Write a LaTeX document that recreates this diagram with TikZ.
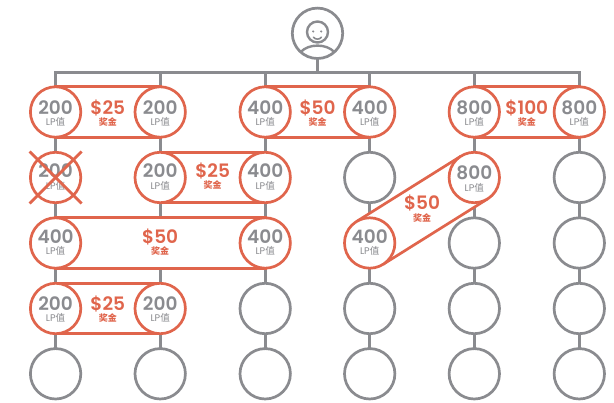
\documentclass[tikz,border=0pt]{standalone}
\usepackage{fontspec}
\setmainfont{Poppins}
\newfontfamily\semi{Poppins SemiBold}
\newfontfamily\cjk{Noto Sans CJK SC}
\usetikzlibrary{backgrounds,calc}
\definecolor{tree}{HTML}{8A8B8F}
\definecolor{prize}{HTML}{E0654C}
\tikzset{
  x=1pt,y=-1pt,
  stub/.style={circle,draw=tree,line width=2.7pt,fill=white,minimum size=50.4pt,inner sep=0pt,outer sep=0pt},
  won/.style={stub,draw=prize},
  link/.style={draw=tree,line width=2.7pt},
  band/.style={draw=prize,line width=2.7pt},
  bandfill/.style={fill=white},
  cross/.style={draw=prize,line width=2.7pt},
  val/.style={text=tree,font=\fontsize{18.5}{19}\semi,inner sep=0pt},
  lp/.style={text=tree,font=\fontsize{9.6}{10}\selectfont,inner sep=0pt},
  amt/.style={text=prize,font=\fontsize{18.5}{19}\semi,inner sep=0pt},
  bonus/.style={text=prize,font=\fontsize{9}{9}\cjk\bfseries,inner sep=0pt},
}
\newcommand{\LPv}{LP{\cjk 值}}
% name, x, value, y of value, y of label
\newcommand{\valtext}[5]{%
  \node[val] (#1v) at (#2,#4) {#3};
  \node[lp] (#1l) at (#2,#5) {\LPv};}
\newcommand{\prizetext}[4]{%
  \node[amt] (#1a) at (#2,#3) {#4};
  \node[bonus] (#1b) at (#2,#3+14.3) {奖金};}
\begin{document}
\begin{tikzpicture}
\useasboundingbox (0,0) rectangle (614,403);
% circles
\node[stub] (root) at (317.5,33.3) {};
\node[won] (a1) at (55.6,112) {};
\node[won] (b1) at (160.2,112) {};
\node[won] (c1) at (265.2,112) {};
\node[won] (d1) at (369.7,112) {};
\node[won] (e1) at (474.3,112) {};
\node[won] (f1) at (579.3,112) {};
\node[won] (a2) at (55.6,177.5) {};
\node[won] (b2) at (160.2,177.5) {};
\node[won] (c2) at (265.2,177.5) {};
\node[stub] (d2) at (369.7,177.5) {};
\node[won] (e2) at (474.3,177.5) {};
\node[stub] (f2) at (579.3,177.5) {};
\node[won] (a3) at (55.6,243) {};
\node[won] (c3) at (265.2,243) {};
\node[won] (d3) at (369.7,243) {};
\node[stub] (e3) at (474.3,243) {};
\node[stub] (f3) at (579.3,243) {};
\node[won] (a4) at (55.6,308.5) {};
\node[won] (b4) at (160.2,308.5) {};
\node[stub] (c4) at (265.2,308.5) {};
\node[stub] (d4) at (369.7,308.5) {};
\node[stub] (e4) at (474.3,308.5) {};
\node[stub] (f4) at (579.3,308.5) {};
\node[stub] (a5) at (55.6,373.8) {};
\node[stub] (b5) at (160.2,373.8) {};
\node[stub] (c5) at (265.2,373.8) {};
\node[stub] (d5) at (369.7,373.8) {};
\node[stub] (e5) at (474.3,373.8) {};
\node[stub] (f5) at (579.3,373.8) {};
\coordinate (bus) at (317.5,72.5);
\coordinate (b3) at (160.2,243);
\begin{scope}[on background layer]
  % tree connectors
  \draw[link] (root) -- (bus);
  \foreach \n in {a1,b1,c1,d1,e1,f1} \draw[link,line cap=rect] (\n) |- (bus);
  \foreach \u/\v in {a1/a2,a2/a3,a3/a4,a4/a5,b1/b2,b2/b3,b3/b4,b4/b5,c1/c2,c2/c3,c3/c4,c4/c5,d1/d2,d2/d3,d3/d4,d4/d5,e1/e2,e2/e3,e3/e4,e4/e5,f1/f2,f2/f3,f3/f4,f4/f5}
    \draw[link] (\u) -- (\v);
  % prize bands
  \foreach \u/\v in {a1/b1,c1/d1,e1/f1,b2/c2,a3/c3,a4/b4}
    \path[band,bandfill] (\u.north) -- (\v.north) -- (\v.south) -- (\u.south) -- cycle;
  \fill[white] (d3.122) -- (e2.122) -- (e2.302) -- (d3.302) -- cycle;
  \draw[band] (d3.122) -- (e2.122);
  \draw[band] (d3.302) -- (e2.302);
\end{scope}
% face
\node[circle,draw=tree,line width=2.4pt,minimum size=21pt,inner sep=0pt,outer sep=0pt] (head) at (317.5,32) {};
\node[circle,fill=tree,minimum size=2.4pt,inner sep=0pt] (eyeL) at (313.2,31.5) {};
\node[circle,fill=tree,minimum size=2.4pt,inner sep=0pt] (eyeR) at (321.2,31.5) {};
\draw[tree,line width=1.6pt,line cap=round] (313.4,37.2) .. controls (315.5,39.8) and (319.5,39.8) .. (321.4,37.2);
\draw[link,line width=2.4pt] (root.228) .. controls (305,47.6) and (311,45.6) .. (317.5,45.6) .. controls (324,45.6) and (330,47.6) .. (root.312);
% texts
\valtext{a1}{55.6}{200}{108}{122}
\valtext{b1}{160.2}{200}{108}{122}
\valtext{c1}{265.2}{400}{108}{122}
\valtext{d1}{369.7}{400}{108}{122}
\valtext{e1}{474.3}{800}{108}{122}
\valtext{f1}{579.3}{800}{108}{122}
\valtext{a2}{55.6}{200}{171}{185.5}
\valtext{b2}{160.2}{200}{171}{185.5}
\valtext{c2}{265.2}{400}{171}{185.5}
\valtext{e2}{474.3}{800}{172.7}{187.5}
\valtext{a3}{55.6}{400}{236.7}{250.7}
\valtext{c3}{265.2}{400}{236.7}{250.7}
\valtext{d3}{369.7}{400}{236.7}{250.7}
\valtext{a4}{55.6}{200}{304}{318.3}
\valtext{b4}{160.2}{200}{304}{318.3}
\prizetext{p1}{107.8}{107.7}{\$25}
\prizetext{p2}{317.5}{107.7}{\$50}
\prizetext{p3}{526.8}{107.7}{\$100}
\prizetext{p4}{212.7}{171}{\$25}
\prizetext{p5}{422}{203.5}{\$50}
\prizetext{p6}{160.2}{236.7}{\$50}
\prizetext{p7}{107.8}{304}{\$25}
% cross-out
\draw[cross] ($(a2)+(-26,-26)$) -- ($(a2)+(26,26)$);
\draw[cross] ($(a2)+(26,-26)$) -- ($(a2)+(-26,26)$);
\end{tikzpicture}
\end{document}
